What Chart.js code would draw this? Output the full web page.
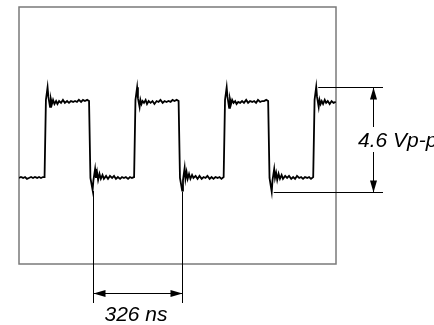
<!DOCTYPE html>
<html>
<head>
<meta charset="utf-8">
<script src="https://cdn.jsdelivr.net/npm/chart.js@4/dist/chart.umd.min.js"></script>
<style>
  html, body { margin: 0; padding: 0; background: #fff; }
  #wrap { width: 434px; height: 325px; }
</style>
</head>
<body>
<div id="wrap"><canvas id="chart" width="434" height="325"></canvas></div>
<script>
// trace: time in ns, level in volts
const timeNs = [
  0, 7, 15, 22, 29, 36, 44, 51, 58, 66, 73, 80, 87, 93,
  98, 104, 107, 113, 116, 120, 124, 129, 135, 140, 146, 153, 160, 167, 175, 182, 189, 197, 204, 211, 218, 226, 233, 240, 248, 255,
  260, 268, 271, 277, 280, 284, 288, 293, 298, 304, 309, 317, 324, 331, 339, 346, 353, 360, 368, 375, 382, 389, 397, 404, 411, 419,
  424, 430, 433, 439, 442, 446, 450, 455, 461, 466, 472, 479, 486, 493, 501, 508, 515, 523, 530, 537, 544, 552, 559, 566, 574, 581,
  586, 594, 597, 603, 606, 610, 614, 619, 624, 630, 635, 643, 650, 657, 665, 672, 679, 686, 694, 701, 708, 715, 723, 730, 737, 745,
  750, 756, 759, 765, 768, 772, 776, 781, 787, 792, 798, 805, 812, 819, 827, 834, 841, 849, 856, 863, 870, 878, 885, 892, 900, 907,
  912, 920, 923, 929, 932, 936, 940, 945, 950, 956, 961, 969, 976, 983, 991, 998, 1005, 1012, 1020, 1027, 1034, 1041, 1049, 1056, 1063, 1071,
  1076, 1082, 1085, 1091, 1094, 1098, 1102, 1107, 1113, 1118, 1124, 1131, 1138, 1145, 1153
];
const volts = [
  0, 0.04, 0, 0.04, -0.04, 0, 0.04, 0, 0.04, 0, 0.04, 0, 0.04, 0.04,
  3.42, 3.97, 3.55, 3.11, 3.46, 3.24, 3.42, 3.24, 3.37, 3.24, 3.37, 3.29, 3.42, 3.29, 3.37, 3.29, 3.37, 3.33, 3.37, 3.33, 3.42, 3.33, 3.42, 3.37, 3.42, 3.37,
  0, -0.53, -0.09, 0.39, 0, 0.26, -0.09, 0.18, -0.04, 0.13, -0.04, 0.09, -0.04, 0.09, 0, 0.09, -0.04, 0.04, -0.04, 0.04, 0, 0.04, -0.04, 0.04, 0, 0.04,
  3.42, 3.97, 3.50, 3.11, 3.42, 3.24, 3.37, 3.29, 3.42, 3.24, 3.37, 3.29, 3.37, 3.24, 3.37, 3.33, 3.42, 3.29, 3.37, 3.33, 3.37, 3.33, 3.42, 3.37, 3.42, 3.37,
  0, -0.55, -0.09, 0.44, -0.04, 0.26, -0.04, 0.18, -0.04, 0.13, 0, 0.09, -0.04, 0.09, -0.04, 0.04, 0, 0.09, -0.04, 0.04, -0.04, 0.04, 0, 0.04, -0.04, 0.04,
  3.42, 3.97, 3.55, 3.07, 3.46, 3.24, 3.42, 3.29, 3.37, 3.24, 3.33, 3.29, 3.37, 3.29, 3.42, 3.29, 3.37, 3.33, 3.37, 3.29, 3.42, 3.33, 3.37, 3.37, 3.42, 3.37,
  0, -0.61, -0.09, 0.39, 0, 0.22, -0.09, 0.18, -0.04, 0.13, -0.04, 0.09, 0, 0.09, -0.04, 0.04, -0.04, 0.09, 0, 0.04, -0.04, 0.04, 0, 0.04, -0.04, 0.04,
  3.42, 3.99, 3.55, 3.11, 3.42, 3.24, 3.37, 3.24, 3.42, 3.29, 3.37, 3.24, 3.37, 3.29, 3.33
];
// screen range of the scope window
const timeRange = [0, 1154];
const voltRange = [-3.77, 7.49];

const FONT = 'italic 21px "Liberation Sans", Arial, sans-serif';

function arrowHead(ctx, x, y, dx, dy) {
  // filled triangle, tip at (x,y), pointing along (dx,dy)
  const len = 12, half = 3.5;
  ctx.beginPath();
  ctx.moveTo(x, y);
  ctx.lineTo(x - dx * len - dy * half, y - dy * len + dx * half);
  ctx.lineTo(x - dx * len + dy * half, y - dy * len - dx * half);
  ctx.closePath();
  ctx.fill();
}

const scopeFrame = {
  id: "scopeFrame",
  beforeDatasetsDraw(chart) {
    const { ctx, chartArea: a } = chart;
    ctx.save();
    ctx.strokeStyle = "#7a7a7a";
    ctx.lineWidth = 1.5;
    ctx.strokeRect(a.left, a.top, a.right - a.left, a.bottom - a.top);
    ctx.restore();
  },
  afterDraw(chart) {
    const { ctx, chartArea: a } = chart;
    const xs = chart.scales.x, ys = chart.scales.y;

    // find undershoots and the last overshoot in the trace
    const dips = [];
    volts.forEach((v, i) => { if (v < -0.3) dips.push(i); });
    let peak = 0;
    volts.forEach((v, i) => { if (v > 3.9) peak = i; });
    const vMax = Math.max(...volts), vMin = Math.min(...volts);

    ctx.save();
    ctx.strokeStyle = "#000";
    ctx.fillStyle = "#000";
    ctx.lineWidth = 1;

    // period dimension
    const x1 = Math.round(xs.getPixelForValue(timeNs[dips[0]])) + 0.5;
    const x2 = Math.round(xs.getPixelForValue(timeNs[dips[1]])) + 0.5;
    const yEnd = a.bottom + 39;
    const yArr = a.bottom + 29.5;
    ctx.beginPath();
    ctx.moveTo(x1, ys.getPixelForValue(volts[dips[0]]) + 1); ctx.lineTo(x1, yEnd);
    ctx.moveTo(x2, ys.getPixelForValue(volts[dips[1]]) + 1); ctx.lineTo(x2, yEnd);
    ctx.moveTo(x1, yArr); ctx.lineTo(x2, yArr);
    ctx.stroke();
    arrowHead(ctx, x1, yArr, -1, 0);
    arrowHead(ctx, x2, yArr, 1, 0);
    ctx.font = FONT;
    ctx.textAlign = "center";
    ctx.textBaseline = "alphabetic";
    const periodLabel = (timeNs[dips[1]] - timeNs[dips[0]]) + " ns";
    ctx.fillText(periodLabel, (x1 + x2) / 2 - 2, a.bottom + 57);

    // peak-to-peak dimension
    const yTop = Math.round(ys.getPixelForValue(vMax)) + 0.5;
    const yBot = Math.round(ys.getPixelForValue(vMin)) + 0.5;
    const xLineEnd = a.right + 47;
    const xArr = a.right + 37.5;
    ctx.beginPath();
    ctx.moveTo(xs.getPixelForValue(timeNs[peak]) + 2, yTop); ctx.lineTo(xLineEnd, yTop);
    ctx.moveTo(xs.getPixelForValue(timeNs[dips[2]]) + 2, yBot); ctx.lineTo(xLineEnd, yBot);
    ctx.moveTo(xArr, yTop); ctx.lineTo(xArr, yBot);
    ctx.stroke();
    arrowHead(ctx, xArr, yTop, 0, -1);
    arrowHead(ctx, xArr, yBot, 0, 1);
    const vppLabel = (vMax - vMin).toFixed(1) + " Vp-p";
    ctx.textAlign = "left";
    const tx = a.right + 22, ty = (yTop + yBot) / 2 + 7;
    const w = ctx.measureText(vppLabel).width;
    ctx.fillStyle = "#fff";
    ctx.fillRect(tx - 1, ty - 20, w + 2, 25);
    ctx.fillStyle = "#000";
    ctx.fillText(vppLabel, tx, ty);
    ctx.restore();
  }
};

new Chart(document.getElementById("chart"), {
  type: "line",
  data: {
    datasets: [{
      data: timeNs.map((t, i) => ({ x: t, y: volts[i] })),
      borderColor: "#000",
      borderWidth: 1.8,
      pointRadius: 0,
      tension: 0,
      fill: false
    }]
  },
  options: {
    responsive: false,
    animation: false,
    layout: { padding: { left: 19, top: 7, right: 98, bottom: 61 } },
    plugins: { legend: { display: false }, tooltip: { enabled: false } },
    scales: {
      x: { type: "linear", display: false, min: timeRange[0], max: timeRange[1] },
      y: { type: "linear", display: false, min: voltRange[0], max: voltRange[1] }
    }
  },
  plugins: [scopeFrame]
});
</script>
</body>
</html>
